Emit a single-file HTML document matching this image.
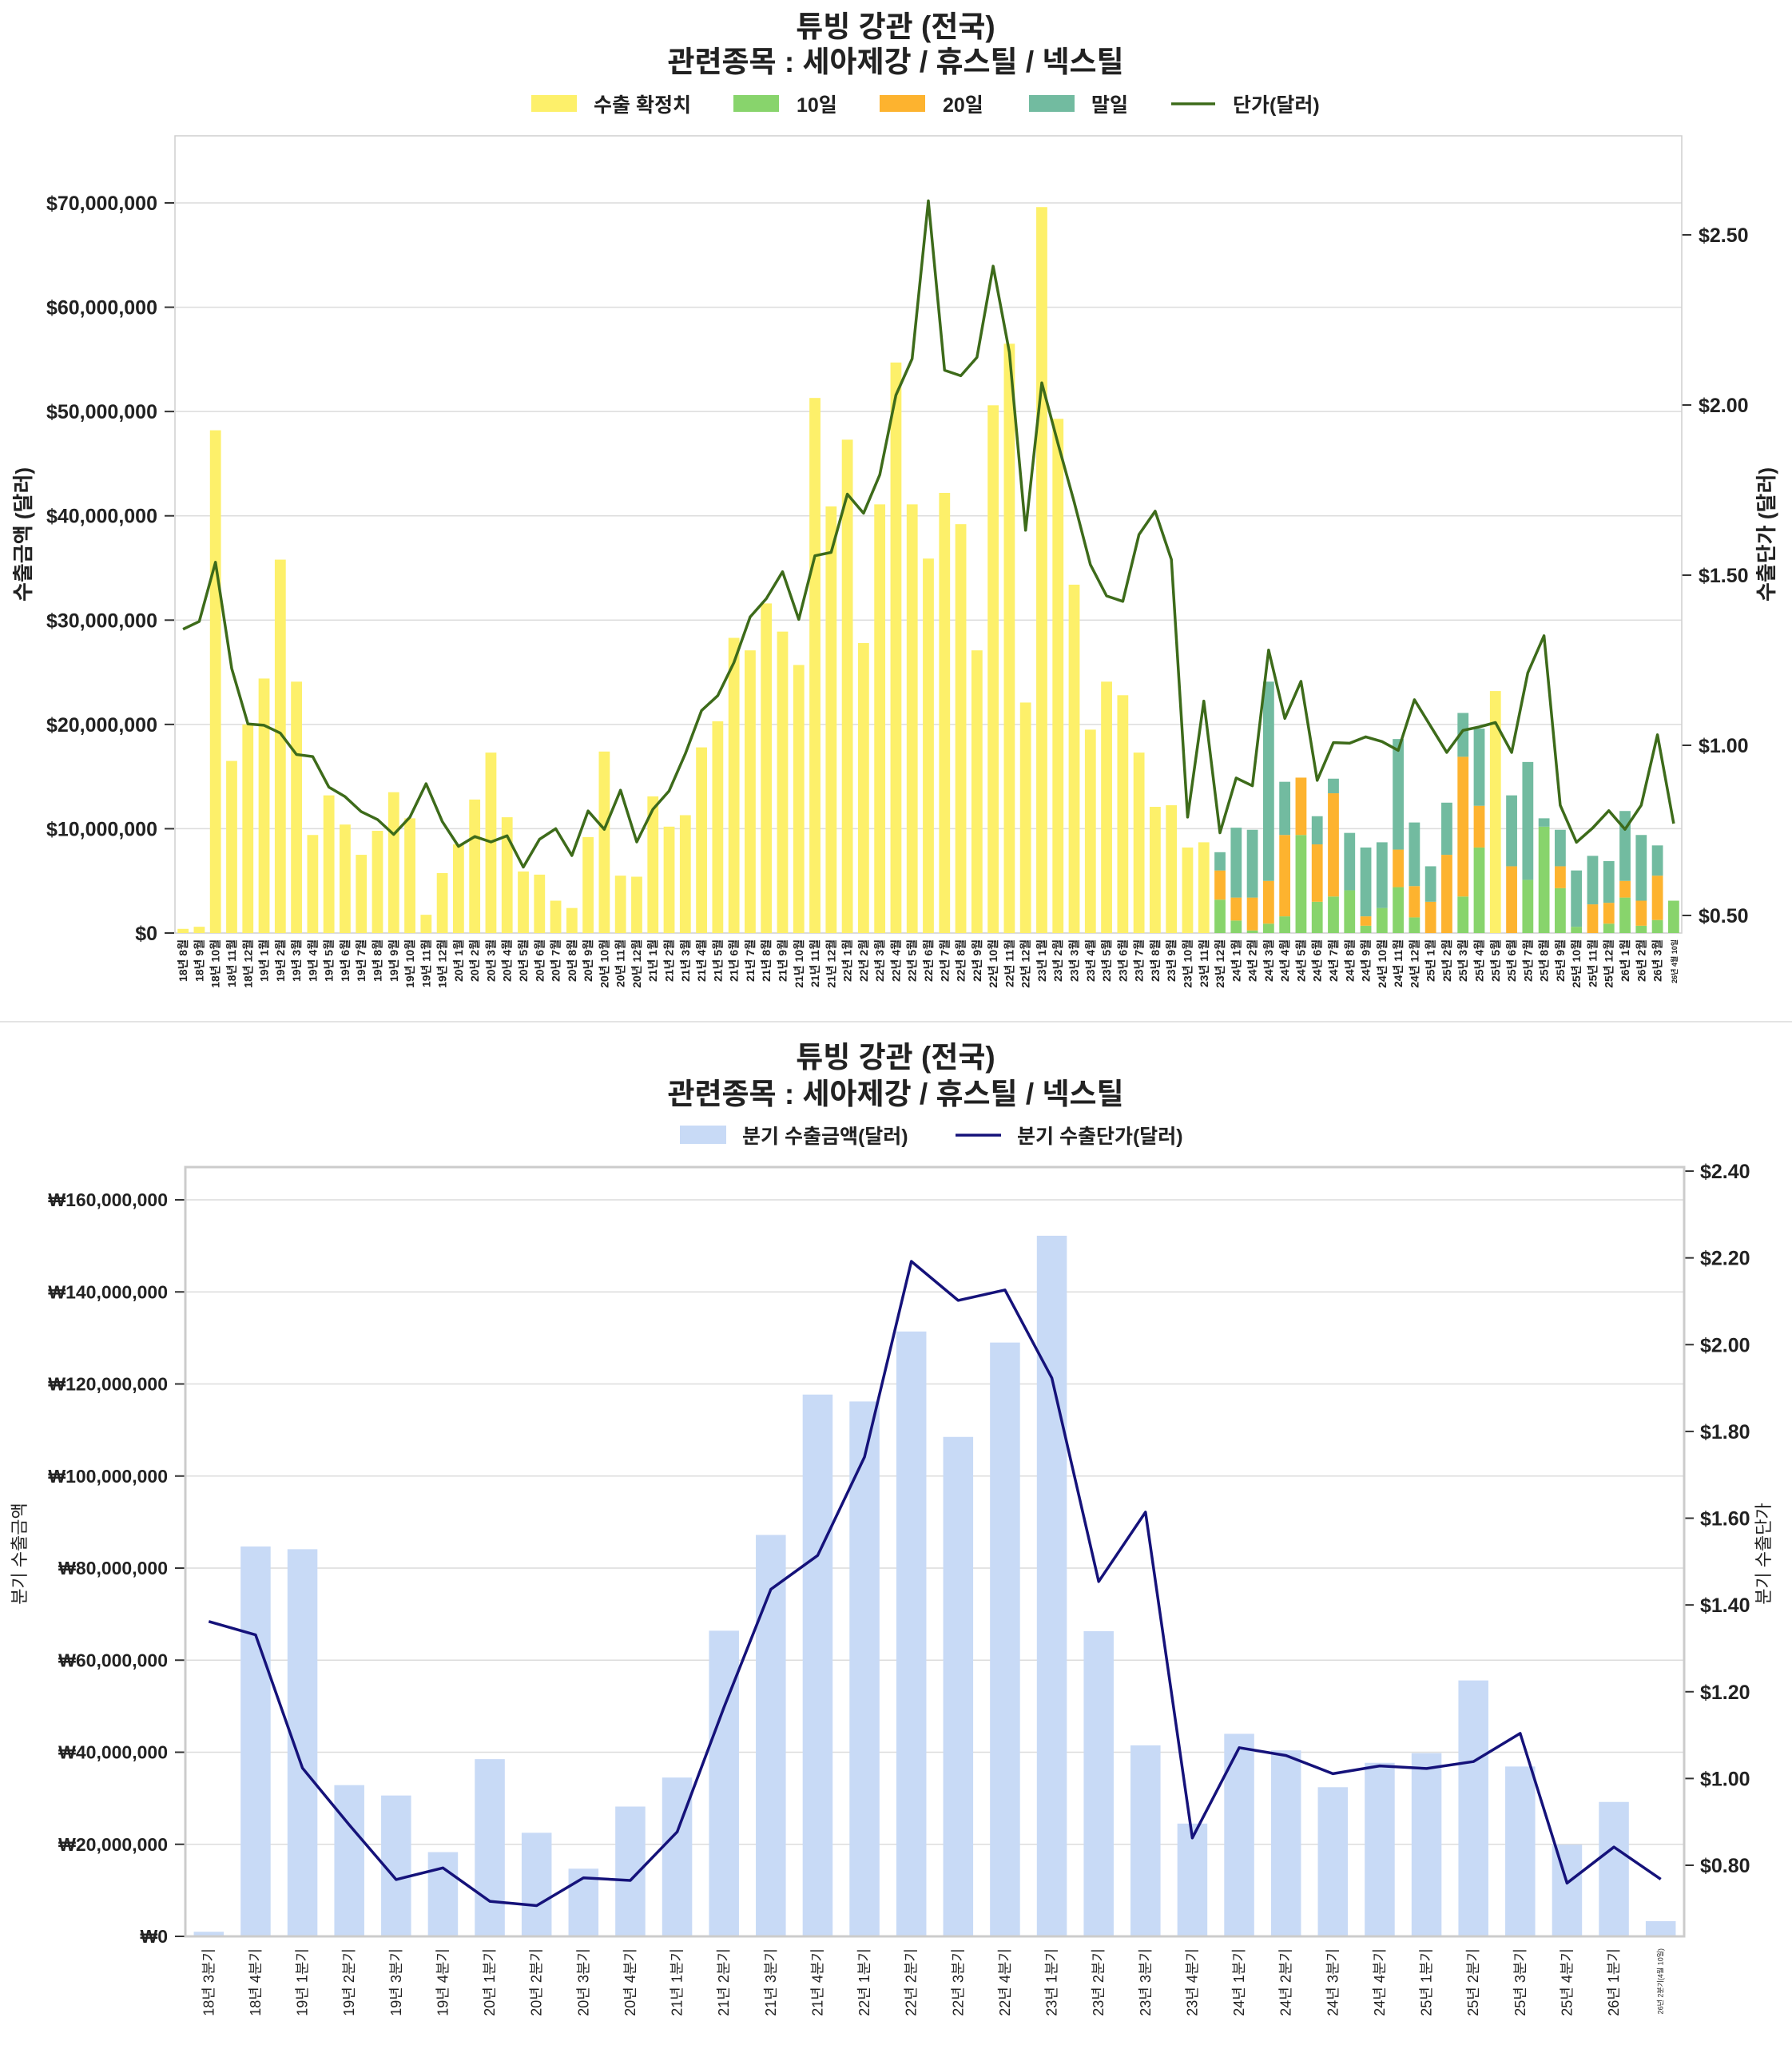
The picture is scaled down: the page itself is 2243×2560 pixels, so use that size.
<!DOCTYPE html>
<html><head><meta charset="utf-8">
<style>
html,body{margin:0;padding:0;background:#fff;}
svg{display:block;}
text{font-family:"Liberation Sans","Noto Sans CJK KR",sans-serif;fill:#222;}
</style></head>
<body>
<svg id="s" width="2243" height="2560" xmlns="http://www.w3.org/2000/svg"></svg>
<script>
const S=document.getElementById('s');let h='';
function t(x,y,s,sz,opt){opt=opt||{};h+=`<text x="${x}" y="${y}" font-size="${sz}" font-weight="${opt.w||'bold'}" text-anchor="${opt.a||'start'}"${opt.r?` transform="rotate(${opt.r} ${x} ${y})"`:''}>${s}</text>`;}
function r(x,y,w,hh,c){if(hh<=0)return;h+=`<rect x="${x.toFixed(2)}" y="${y.toFixed(2)}" width="${w.toFixed(2)}" height="${hh.toFixed(2)}" fill="${c}"/>`;}
function l(x1,y1,x2,y2,c,w){h+=`<line x1="${x1}" y1="${y1}" x2="${x2}" y2="${y2}" stroke="${c}" stroke-width="${w}"/>`;}
const fmt=n=>n.toLocaleString('en-US');

// ===== TOP CHART =====
const L=219,R=2105,T=170,B=1168,K=13.057;
const yv=v=>B-v*K;
const yp=p=>1146-(p-0.5)*426;
const yel=[0.4,0.6,48.2,16.5,20,24.4,35.8,24.1,9.4,13.2,10.4,7.5,9.8,13.5,11,1.75,5.75,8.5,12.8,17.3,11.1,5.9,5.6,3.1,2.4,9.2,17.4,5.5,5.4,13.1,10.2,11.3,17.8,20.3,28.3,27.1,31.6,28.9,25.7,51.3,40.9,47.3,27.8,41.1,54.7,41.1,35.9,42.2,39.2,27.1,50.6,56.5,22.1,69.6,49.3,33.4,19.5,24.1,22.8,17.3,12.1,12.25,8.2,8.7];
const stk=[[3.2,6.0,7.75],[1.2,3.4,10.1],[0.25,3.4,9.9],[0.9,5,24.1],[1.6,9.4,14.5],[9.4,14.9,14.9],[3,8.5,11.2],[3.5,13.4,14.8],[4.1,4.1,9.6],[0.7,1.6,8.2],[2.4,2.4,8.7],[4.4,8,18.6],[1.5,4.5,10.6],[0,3.0,6.4],[0,7.5,12.5],[3.5,16.9,21.1],[8.2,12.2,19.6],'Y23.2',[0,6.4,13.2],[5.1,5.1,16.4],[10.2,10.2,11],[4.3,6.4,9.9],[0.6,0.6,6],[0,2.75,7.4],[0.9,2.9,6.9],[3.4,5,11.7],[0.7,3.1,9.4],[1.25,5.5,8.4],[3.1,3.1,3.1]];
const price=[1.341,1.364,1.538,1.226,1.063,1.059,1.036,0.973,0.967,0.877,0.849,0.805,0.782,0.738,0.789,0.887,0.776,0.703,0.732,0.716,0.734,0.642,0.724,0.755,0.676,0.807,0.753,0.868,0.716,0.812,0.866,0.975,1.102,1.146,1.243,1.377,1.431,1.510,1.370,1.557,1.567,1.738,1.682,1.795,2.029,2.136,2.600,2.102,2.086,2.140,2.408,2.155,1.632,2.065,1.887,1.715,1.531,1.439,1.423,1.619,1.688,1.546,0.789,1.130,0.743,0.904,0.881,1.280,1.079,1.188,0.897,1.008,1.006,1.025,1.011,0.985,1.134,1.056,0.979,1.044,1.054,1.067,0.979,1.213,1.322,0.824,0.715,0.757,0.808,0.753,0.824,1.031,0.770];
const N=93,sw=(R-L)/N,bw=sw*0.68;
for(let v=0;v<=70;v+=10){const y=yv(v);if(v>0)l(L,y,R,y,'#dcdcdc',1.5);l(206,y,218,y,'#333',2);t(197,y+9,'$'+fmt(v*1e6),25,{a:'end'});}
for(let p=0.5;p<=2.51;p+=0.5){const y=yp(p);l(R,y,R+12,y,'#333',2);t(2126,y+9,'$'+p.toFixed(2),25);}
h+=`<rect x="${L}" y="${T}" width="${R-L}" height="${B-T}" fill="none" stroke="#cfcfcf" stroke-width="1.5"/>`;
const cx=i=>L+sw*(i+0.5);
for(let i=0;i<N;i++){const x=cx(i)-bw/2;
 if(i<yel.length){r(x,yv(yel[i]),bw,yel[i]*K,'#fdf06a');}
 else{const s=stk[i-yel.length];
  if(typeof s==='string'){const v=parseFloat(s.slice(1));r(x,yv(v),bw,v*K,'#fdf06a');}
  else{r(x,yv(s[0]),bw,s[0]*K,'#88d46c');r(x,yv(s[1]),bw,(s[1]-s[0])*K,'#fdb32f');r(x,yv(s[2]),bw,(s[2]-s[1])*K,'#72bba0');}}
}
h+=`<polyline fill="none" stroke="#3d6b1a" stroke-width="3.5" stroke-linejoin="round" points="${price.map((p,i)=>cx(i).toFixed(1)+','+yp(p).toFixed(1)).join(' ')}"/>`;
let labs=[];for(let m=8;m<=12;m++)labs.push('18년 '+m+'월');
for(let y=19;y<=25;y++)for(let m=1;m<=12;m++)labs.push(y+'년 '+m+'월');
for(let m=1;m<=3;m++)labs.push('26년 '+m+'월');
labs.forEach((s,i)=>t(cx(i)+5,1176,s,14,{a:'end',r:-90}));
t(cx(92)+4,1176,'26년 4월 10일',9,{a:'end',r:-90});
t(1121,46,'튜빙 강관 (전국)',37,{a:'middle'});
t(1121,90,'관련종목 : 세아제강 / 휴스틸 / 넥스틸',37,{a:'middle'});
r(665,119,57,21,'#fdf06a');t(743,140,'수출 확정치',25);
r(918,119,57,21,'#88d46c');t(997,140,'10일',25);
r(1101,119,57,21,'#fdb32f');t(1180,140,'20일',25);
r(1288,119,57,21,'#72bba0');t(1366,140,'말일',25);
l(1466,130,1521,130,'#3d6b1a',3.5);t(1543,140,'단가(달러)',25);
t(38,669,'수출금액 (달러)',26,{a:'middle',r:-90});
t(2220,669,'수출단가 (달러)',26,{a:'middle',r:-90});
l(0,1279,2243,1279,'#e4e4e4',2);

// ===== BOTTOM CHART =====
const L2=232,R2=2108,T2=1461,B2=2424,K2=5.7625;
const yv2=v=>B2-v*K2;
const yp2=p=>2335-(p-0.8)*543.1;
const qb=[1.0,84.7,84.1,32.85,30.6,18.3,38.5,22.5,14.7,28.2,34.5,66.4,87.2,117.7,116.2,131.4,108.5,129.0,152.2,66.3,41.5,24.5,44.0,40.4,32.4,37.7,39.8,55.6,36.9,19.9,29.2,3.3];
const qp=[1.362,1.331,1.024,0.893,0.767,0.794,0.717,0.707,0.771,0.765,0.877,1.164,1.436,1.514,1.741,2.192,2.102,2.126,1.923,1.454,1.614,0.863,1.071,1.053,1.011,1.029,1.023,1.039,1.104,0.759,0.842,0.768];
const N2=32,sw2=(R2-L2)/N2,bw2=sw2*0.64;const cx2=i=>L2+sw2*(i+0.5);
for(let v=0;v<=160;v+=20){const y=yv2(v);if(v>0)l(L2,y,R2,y,'#dcdcdc',1.5);l(219,y,231,y,'#333',2);t(210,y+8,'₩'+fmt(v*1e6),23,{a:'end'});}
for(let p=0.8;p<=2.41;p+=0.2){const y=yp2(p);l(R2,y,R2+12,y,'#333',2);t(2128,y+9,'$'+p.toFixed(2),25);}
qb.forEach((v,i)=>r(cx2(i)-bw2/2,yv2(v),bw2,v*K2,'#c8daf6'));
h+=`<rect x="${L2}" y="${T2}" width="${R2-L2}" height="${B2-T2}" fill="none" stroke="#cccccc" stroke-width="3"/>`;
h+=`<polyline fill="none" stroke="#15127a" stroke-width="3.5" stroke-linejoin="round" points="${qp.map((p,i)=>cx2(i).toFixed(1)+','+yp2(p).toFixed(1)).join(' ')}"/>`;
let ql=[];ql.push('18년 3분기','18년 4분기');for(let y=19;y<=25;y++)for(let q=1;q<=4;q++)ql.push(y+'년 '+q+'분기');ql.push('26년 1분기');
ql.forEach((s,i)=>t(cx2(i)+6,2439,s,18,{a:'end',r:-90,w:'normal'}));
t(cx2(31)+3,2439,'26년 2분기(4월 10일)',9,{a:'end',r:-90,w:'normal'});
t(1121,1336,'튜빙 강관 (전국)',37,{a:'middle'});
t(1121,1382,'관련종목 : 세아제강 / 휴스틸 / 넥스틸',37,{a:'middle'});
r(851,1409,58,23,'#c8daf6');t(929,1431,'분기 수출금액(달러)',25);
l(1196,1421,1253,1421,'#15127a',3.5);t(1273,1431,'분기 수출단가(달러)',25);
t(32,1945,'분기 수출금액',22,{a:'middle',r:-90,w:'normal'});
t(2215,1945,'분기 수출단가',22,{a:'middle',r:-90,w:'normal'});
S.innerHTML=h;
</script>
</body></html>
